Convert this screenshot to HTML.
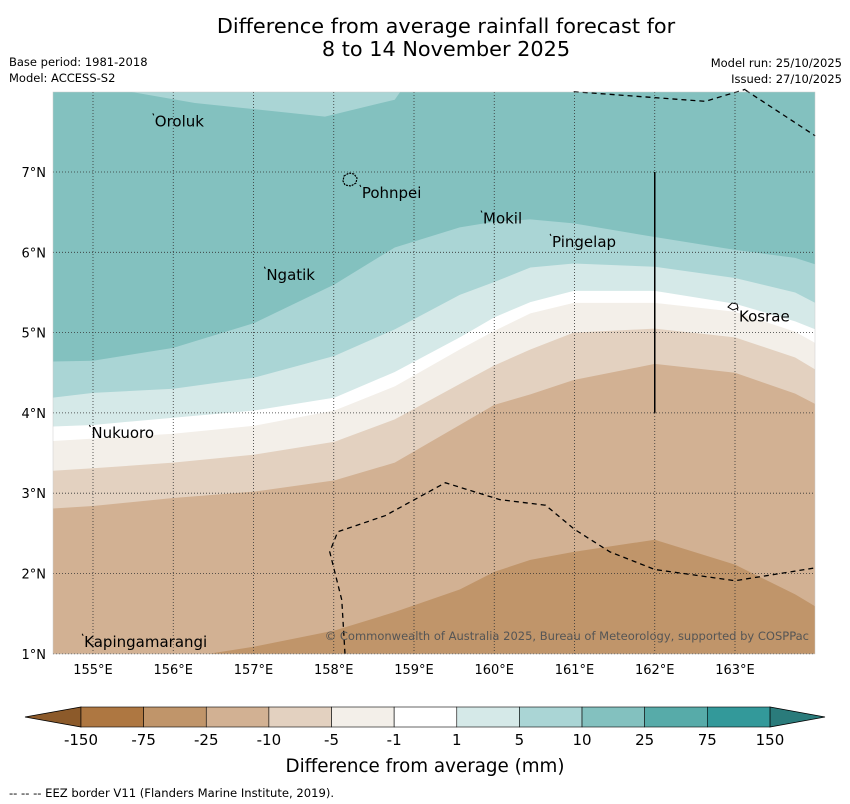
<!DOCTYPE html>
<html><head><meta charset="utf-8"><style>
body{margin:0;background:#fff;}
svg{display:block;font-family:"DejaVu Sans","Liberation Sans",sans-serif;}
</style></head><body>
<svg id="chart" width="850" height="804" viewBox="0 0 850 804">
<text x="446" y="33" text-anchor="middle" font-size="20.8">Difference from average rainfall forecast for</text>
<text x="446" y="56" text-anchor="middle" font-size="20.8">8 to 14 November 2025</text>
<text x="9" y="66" font-size="11.5">Base period: 1981-2018</text>
<text x="9" y="82" font-size="11.5">Model: ACCESS-S2</text>
<text x="842" y="67" font-size="11.5" text-anchor="end">Model run: 25/10/2025</text>
<text x="842" y="83" font-size="11.5" text-anchor="end">Issued: 27/10/2025</text>
<defs><clipPath id="clip"><rect x="53" y="92" width="762" height="562"/></clipPath></defs>
<g id="map" clip-path="url(#clip)"></g>
<g id="over"></g>
<text x="425" y="772" font-size="18.3" text-anchor="middle">Difference from average (mm)</text>
<text x="9" y="797" font-size="11.6">--  --  -- EEZ border V11 (Flanders Marine Institute, 2019).</text>
</svg>
<script>
const lons=[154.5,155.0,156.0,157.01,158.01,158.76,159.57,160.0,160.45,160.99,162.0,163.0,163.75,164.0];
const b10_5=[4.64,4.65,4.81,5.12,5.60,6.06,6.31,6.38,6.41,6.36,6.19,6.03,5.93,5.85];
const b5_1=[4.19,4.25,4.30,4.44,4.71,5.04,5.47,5.63,5.81,5.86,5.82,5.68,5.50,5.37];
const b1_m1=[3.83,3.85,3.94,4.03,4.19,4.51,4.94,5.19,5.38,5.52,5.52,5.36,5.14,5.04];
const bm1_m5=[3.65,3.68,3.74,3.84,4.03,4.33,4.79,5.02,5.24,5.37,5.37,5.26,5.01,4.87];
const bm5_m10=[3.28,3.31,3.38,3.48,3.64,3.92,4.36,4.59,4.79,5.00,5.05,4.94,4.69,4.54];
const bm10_m25=[2.81,2.84,2.94,3.02,3.16,3.38,3.85,4.10,4.23,4.41,4.61,4.50,4.24,4.11];
const bm25_m75=[0.80,0.83,0.93,1.09,1.29,1.52,1.80,2.02,2.17,2.27,2.42,2.11,1.74,1.59];
const topPatchLon=[155.46,156.27,157.89,158.76,158.83];
const topPatchLat=[8.0,7.86,7.69,7.90,8.0];
const lonTicks=[155,156,157,158,159,160,161,162,163];
const latTicks=[1,2,3,4,5,6,7];
const cbLabels=["-150","-75","-25","-10","-5","-1","1","5","10","25","75","150"];
const cbColors=["#ae7741","#c0956a","#d2b193","#e3d1c0","#f3efe9","#ffffff","#d5e9e8","#aad5d5","#83c1bf","#57aba9","#33999a"];
const places=[["Oroluk",155.77,7.63],["Pohnpei",158.35,6.74],["Mokil",159.86,6.42],["Pingelap",160.72,6.13],["Ngatik",157.16,5.72],["Kosrae",163.05,5.2],["Nukuoro",154.98,3.75],["Kapingamarangi",154.89,1.15]];
const eezA=[[160.99,8.0],[162.63,7.88],[163.13,8.03]];
const eezB=[[163.13,8.02],[164.0,7.45]];
const eezC=[[158.14,1.0],[158.1,1.67],[157.95,2.27],[158.05,2.52],[158.64,2.72],[159.39,3.13],[160.07,2.92],[160.64,2.85],[161.0,2.55],[161.44,2.27],[162.0,2.05],[163.0,1.91],[164.0,2.07]];
const X=l=>93+(l-155)*80.25, Y=a=>172+(7-a)*80.3;
const NS="http://www.w3.org/2000/svg";
const map=document.getElementById('map'), over=document.getElementById('over'), svg=document.getElementById('chart');
function mk(tag,at,par){const e=document.createElementNS(NS,tag);for(const k in at)e.setAttribute(k,at[k]);par.appendChild(e);return e;}
let e=mk('rect',{x:53,y:92,width:762,height:562,fill:"#83c1bf"},map);


e=mk('polygon',{points:topPatchLon.map((l,i)=>X(l)+','+Y(topPatchLat[i])).join(' '),fill:"#aad5d5"},map);


const bounds=[[b10_5,"#aad5d5","band-5-10"],[b5_1,"#d5e9e8","band-1-5"],[b1_m1,"#ffffff","band-neutral"],[bm1_m5,"#f3efe9","band-m1-m5"],[bm5_m10,"#e3d1c0","band-m5-m10"],[bm10_m25,"#d2b193","band-m10-m25"],[bm25_m75,"#c0956a","band-m25-m75"]];
bounds.forEach(([b,c,n])=>{
  let pts=lons.map((l,i)=>X(l)+','+Y(b[i])).join(' ')+' '+X(164)+',700 '+X(154.5)+',700';
  const p=mk('polygon',{points:pts,fill:c},map);
  
  
});
lonTicks.forEach(l=>{const g=mk('line',{x1:X(l),x2:X(l),y1:92,y2:654,stroke:"#333","stroke-width":0.8,"stroke-dasharray":"1,2"},over);


const t=mk('text',{x:X(l),y:674,"font-size":13,"text-anchor":"middle"},svg);t.textContent=l+'°E';

});
latTicks.forEach(a=>{const g=mk('line',{x1:53,x2:815,y1:Y(a),y2:Y(a),stroke:"#333","stroke-width":0.8,"stroke-dasharray":"1,2"},over);


const t=mk('text',{x:46,y:Y(a)+5,"font-size":13,"text-anchor":"end"},svg);t.textContent=a+'°N';

});
[eezA,eezB,eezC].forEach(s=>{const p=mk('polyline',{points:s.map(q=>X(q[0])+','+Y(q[1])).join(' '),fill:"none",stroke:"#000","stroke-width":1.3,"stroke-dasharray":"5,4"},over);

});
e=mk('line',{x1:X(162),x2:X(162),y1:Y(7),y2:Y(4),stroke:"#000","stroke-width":1.5},over);


e=mk('path',{d:"M344,176 l5,-3 l5,1 l3,4 l-1,5 l-5,3 l-6,-1 l-2,-4z",fill:"none",stroke:"#000","stroke-width":1.2,"stroke-dasharray":"2,1"},over);


e=mk('path',{d:"M728,307 l4,-4 l5,1 l1,4 l-5,2z",fill:"#fff",stroke:"#000","stroke-width":1},over);


places.forEach(([n,l,a])=>{const t=mk('text',{x:X(l),y:Y(a)+5,"font-size":15},over);t.textContent=n;


const m=mk('line',{x1:X(l)-2,y1:Y(a)-8,x2:X(l)-1,y2:Y(a)-6,stroke:"#000","stroke-width":1},over);

});
e=mk('text',{x:809,y:640,"font-size":11.5,"text-anchor":"end",fill:"#555"},over);e.textContent="© Commonwealth of Australia 2025, Bureau of Meteorology, supported by COSPPac";


e=mk('rect',{x:53,y:92,width:762,height:562,fill:"none",stroke:"#ccc","stroke-width":0.5},over);


const cx0=81,cw=62.63,cy=707,ch=20;
e=mk('polygon',{points:`25,717 ${cx0},${cy} ${cx0},${cy+ch}`,fill:"#8c5a2a",stroke:"#000","stroke-width":0.8},svg);


e=mk('polygon',{points:`825,717 ${cx0+11*cw},${cy} ${cx0+11*cw},${cy+ch}`,fill:"#2a7b7b",stroke:"#000","stroke-width":0.8},svg);


cbColors.forEach((c,i)=>{const r=mk('rect',{x:cx0+i*cw,y:cy,width:cw,height:ch,fill:c,stroke:"#000","stroke-width":0.6},svg);

});
cbLabels.forEach((s,i)=>{const t=mk('text',{x:cx0+i*cw,y:745,"font-size":15,"text-anchor":"middle"},svg);t.textContent=s;

});
</script>
</body></html>
